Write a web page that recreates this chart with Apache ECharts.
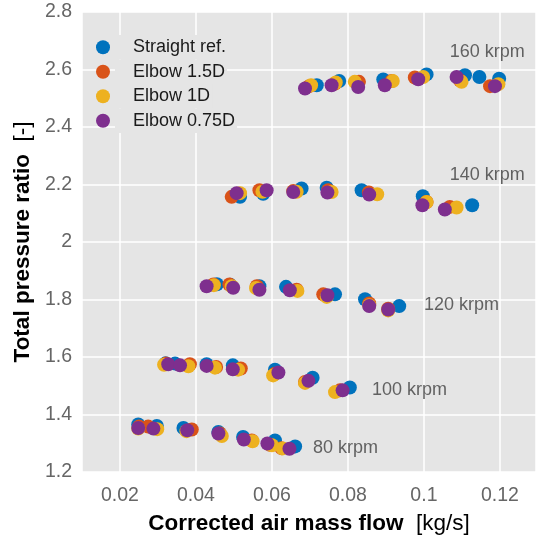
<!DOCTYPE html>
<html>
<head>
<meta charset="utf-8">
<script src="https://cdn.jsdelivr.net/npm/echarts@6/dist/echarts.min.js"></script>
<style>
  html, body { margin: 0; padding: 0; background: #fff; }
  #chart { width: 536px; height: 537px; }
</style>
</head>
<body>
<div id="chart"></div>
<script>
// series names
var seriesNames = ['Straight ref.', 'Elbow 1.5D', 'Elbow 1D', 'Elbow 0.75D'];

// corrected mass flow [kg/s], rows go 160, 140, 120, 100, 80 krpm
var straightFlow = [0.0718, 0.0777, 0.0893, 0.1007, 0.1108, 0.1146, 0.1198,
  0.0516, 0.0577, 0.0678, 0.0744, 0.0836, 0.0997, 0.1127,
  0.0455, 0.0490, 0.0567, 0.0637, 0.0766, 0.0845, 0.0935,
  0.0320, 0.0345, 0.0428, 0.0497, 0.0608, 0.0707, 0.0805,
  0.0248, 0.0297, 0.0367, 0.0459, 0.0524, 0.0608, 0.0661];
var straightRatio = [2.545, 2.560, 2.565, 2.583, 2.580, 2.574, 2.568,
  2.157, 2.168, 2.186, 2.189, 2.180, 2.159, 2.128,
  1.853, 1.851, 1.846, 1.844, 1.818, 1.801, 1.777,
  1.578, 1.577, 1.575, 1.571, 1.556, 1.528, 1.494,
  1.365, 1.360, 1.353, 1.339, 1.322, 1.310, 1.289];

var elbow15Flow = [0.0698, 0.0766, 0.0829, 0.0915, 0.0976, 0.1095, 0.1174,
  0.0494, 0.0567, 0.0656, 0.0748, 0.0855, 0.1007, 0.1068,
  0.0446, 0.0488, 0.0560, 0.0665, 0.0735, 0.0856, 0.0906,
  0.0321, 0.0384, 0.0453, 0.0518, 0.0608, 0.0687, 0.0779,
  0.0250, 0.0274, 0.0389, 0.0463, 0.0547, 0.0595, 0.0625];
var elbow15Ratio = [2.542, 2.551, 2.557, 2.560, 2.572, 2.562, 2.542,
  2.157, 2.180, 2.177, 2.180, 2.172, 2.139, 2.122,
  1.852, 1.852, 1.846, 1.834, 1.818, 1.786, 1.768,
  1.577, 1.575, 1.565, 1.560, 1.542, 1.513, 1.484,
  1.358, 1.358, 1.348, 1.334, 1.310, 1.295, 1.283];

var elbow1Flow = [0.0703, 0.0768, 0.0818, 0.0918, 0.0998, 0.1099, 0.1196,
  0.0516, 0.0575, 0.0665, 0.0757, 0.0877, 0.1007, 0.1086,
  0.0447, 0.0494, 0.0558, 0.0667, 0.0744, 0.0856, 0.0906,
  0.0316, 0.0380, 0.0450, 0.0511, 0.0603, 0.0687, 0.0766,
  0.0248, 0.0298, 0.0375, 0.0468, 0.0549, 0.0600, 0.0628];
var elbow1Ratio = [2.545, 2.555, 2.557, 2.560, 2.574, 2.557, 2.549,
  2.170, 2.175, 2.175, 2.174, 2.166, 2.139, 2.120,
  1.850, 1.846, 1.840, 1.830, 1.809, 1.780, 1.762,
  1.573, 1.568, 1.563, 1.556, 1.536, 1.510, 1.478,
  1.351, 1.349, 1.342, 1.325, 1.307, 1.293, 1.282];

var elbow075Flow = [0.0687, 0.0757, 0.0827, 0.0897, 0.0985, 0.1086, 0.1187,
  0.0507, 0.0586, 0.0656, 0.0746, 0.0856, 0.0996, 0.1055,
  0.0428, 0.0498, 0.0567, 0.0647, 0.0746, 0.0856, 0.0906,
  0.0327, 0.0358, 0.0428, 0.0497, 0.0617, 0.0696, 0.0786,
  0.0248, 0.0288, 0.0377, 0.0459, 0.0526, 0.0588, 0.0646];
var elbow075Ratio = [2.534, 2.545, 2.539, 2.545, 2.566, 2.574, 2.542,
  2.170, 2.180, 2.174, 2.172, 2.165, 2.128, 2.113,
  1.846, 1.841, 1.834, 1.832, 1.815, 1.777, 1.765,
  1.575, 1.571, 1.569, 1.557, 1.546, 1.517, 1.484,
  1.353, 1.351, 1.345, 1.334, 1.313, 1.299, 1.281];

// speed line labels and where they sit (data units)
var speedLabels = ['160 krpm', '140 krpm', '120 krpm', '100 krpm', '80 krpm'];
var speedLabelFlow = [0.1068, 0.1068, 0.1000, 0.0863, 0.0708];
var speedLabelRatio = [2.660, 2.232, 1.780, 1.484, 1.283];

var colors = ['#0072BD', '#D95319', '#EDB120', '#7E2F8E'];
var font = 'Liberation Sans';

function zip(xs, ys) {
  var out = [];
  for (var i = 0; i < xs.length; i++) {
    out.push([xs[i], ys[i]]);
  }
  return out;
}

var flows = [straightFlow, elbow15Flow, elbow1Flow, elbow075Flow];
var ratios = [straightRatio, elbow15Ratio, elbow1Ratio, elbow075Ratio];

var series = [];
for (var s = 0; s < seriesNames.length; s++) {
  series.push({
    name: seriesNames[s],
    type: 'scatter',
    symbol: 'circle',
    symbolSize: 14,
    itemStyle: { color: colors[s], opacity: 1 },
    data: zip(flows[s], ratios[s])
  });
}

var labelData = [];
for (var i = 0; i < speedLabels.length; i++) {
  labelData.push({ value: [speedLabelFlow[i], speedLabelRatio[i]], name: speedLabels[i] });
}
series.push({
  name: 'speeds',
  type: 'scatter',
  symbolSize: 0,
  silent: true,
  data: labelData,
  label: {
    show: true,
    position: [0, 0],
    align: 'left',
    verticalAlign: 'middle',
    formatter: function (p) { return p.name; },
    fontFamily: font,
    fontSize: 18,
    color: '#404040'
  }
});

var chart = echarts.init(document.getElementById('chart'), null, { renderer: 'canvas' });
var option = {
  animation: false,
  backgroundColor: '#ffffff',
  grid: {
    left: 82,
    right: 0,
    top: 12,
    bottom: 65,
    outerBoundsMode: 'none',
    containLabel: false,
    show: true,
    backgroundColor: '#e5e5e5',
    borderWidth: 0
  },
  legend: {
    data: seriesNames,
    orient: 'vertical',
    left: 96,
    top: 35,
    padding: 0,
    itemGap: 0,
    itemWidth: 14,
    itemHeight: 14,
    icon: 'circle',
    textStyle: {
      fontFamily: font,
      fontSize: 18,
      color: '#1a1a1a',
      lineHeight: 24.5,
      backgroundColor: '#e5e5e5',
      padding: [0, 2, 0, 18]
    }
  },
  xAxis: {
    type: 'value',
    min: 0.01,
    max: 0.1295,
    splitNumber: 6,
    name: '{b|Corrected air mass flow}  [kg/s]',
    nameLocation: 'middle',
    nameGap: 40,
    nameTextStyle: {
      fontFamily: font,
      fontSize: 22.5,
      color: '#000',
      rich: {
        b: { fontFamily: font, fontSize: 22.5, fontWeight: 'bold', color: '#000' }
      }
    },
    axisLine: { show: false },
    axisTick: { show: false },
    axisLabel: {
      showMinLabel: false,
      showMaxLabel: false,
      margin: 14,
      fontFamily: font,
      fontSize: 19.5,
      color: '#666666'
    },
    splitLine: { show: true, lineStyle: { color: '#ffffff', width: 1.5 } }
  },
  yAxis: {
    type: 'value',
    min: 1.2,
    max: 2.8,
    interval: 0.2,
    name: '{b|Total pressure ratio}  [-]',
    nameLocation: 'middle',
    nameGap: 43,
    nameRotate: 90,
    nameTextStyle: {
      fontFamily: font,
      fontSize: 22.5,
      color: '#000',
      rich: {
        b: { fontFamily: font, fontSize: 22.5, fontWeight: 'bold', color: '#000' }
      }
    },
    axisLine: { show: false },
    axisTick: { show: false },
    axisLabel: {
      margin: 10,
      fontFamily: font,
      fontSize: 19.5,
      color: '#666666',
      formatter: function (v) { return String(Math.round(v * 10) / 10); }
    },
    splitLine: { show: true, lineStyle: { color: '#ffffff', width: 1.5 } }
  },
  series: series
};
chart.setOption(option);
</script>
</body>
</html>
